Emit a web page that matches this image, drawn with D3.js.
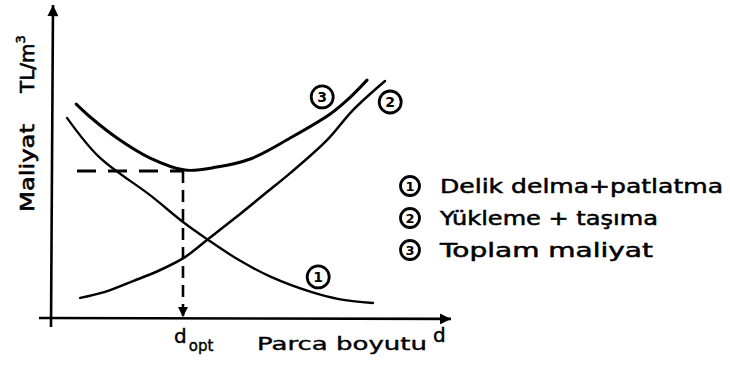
<!DOCTYPE html>
<html>
<head>
<meta charset="utf-8">
<script src="https://cdn.jsdelivr.net/npm/d3@7/dist/d3.min.js"></script>
<style>
  html, body { margin: 0; padding: 0; background: #fff; }
  svg { display: block; }
  text { font-family: "DejaVu Sans", sans-serif; fill: #000; }
</style>
</head>
<body>
<svg id="chart" width="730" height="367"></svg>
<script>
// Cost curves versus fragment size (relative units)
const drillX  = [0.4, 1.2, 2.5, 3.3, 3.9, 4.7, 5.5, 6.5, 7.2, 8.05];
const drillY  = [6.67, 5.37, 4.07, 3.2, 2.63, 1.93, 1.37, 0.87, 0.63, 0.5];
const haulX   = [0.73, 1.35, 2.05, 2.73, 3.35, 3.9, 4.6, 5.4, 5.98, 6.9, 7.55, 8.35];
const haulY   = [0.67, 0.87, 1.23, 1.6, 2.03, 2.6, 3.33, 4.2, 4.83, 5.93, 6.93, 7.9];
const totalX  = [0.63, 0.98, 1.65, 2.48, 3.35, 4.15, 4.98, 5.98, 6.98, 7.45, 7.9];
const totalY  = [7.13, 6.7, 6.0, 5.33, 4.93, 5.03, 5.3, 6.0, 6.8, 7.32, 7.93];
const optimum = { x: 3.3, y: 4.9 };

const legendNums  = ["1", "2", "3"];
const legendTexts = ["Delik delma+patlatma", "Yükleme + taşıma", "Toplam maliyat"];
const legendWidths = [283, 218, 213];

const svg = d3.select("#chart");
const x = d3.scaleLinear().domain([0, 10]).range([51, 451]);
const y = d3.scaleLinear().domain([0, 10]).range([318, 18]);

// arrowheads
const defs = svg.append("defs");
defs.append("marker").attr("id", "arr").attr("viewBox", "0 0 10 10")
  .attr("refX", 10).attr("refY", 5).attr("markerWidth", 10).attr("markerHeight", 10)
  .attr("markerUnits", "userSpaceOnUse").attr("orient", "auto")
  .append("path").attr("d", "M0,0 L10,5 L0,10 Z").attr("fill", "#000");
defs.append("marker").attr("id", "arrBig").attr("viewBox", "0 0 10 10")
  .attr("refX", 10).attr("refY", 5).attr("markerWidth", 16).attr("markerHeight", 11)
  .attr("markerUnits", "userSpaceOnUse").attr("orient", "auto")
  .append("path").attr("d", "M0,0 L10,5 L0,10 Z").attr("fill", "#000");

// axes
svg.append("line")
  .attr("x1", x(-0.3)).attr("y1", y(0)).attr("x2", x(10)).attr("y2", y(-0.03))
  .attr("stroke", "#000").attr("stroke-width", 2.6).attr("marker-end", "url(#arrBig)");
svg.append("line")
  .attr("x1", x(0)).attr("y1", y(-0.3)).attr("x2", x(0.05)).attr("y2", y(10.43))
  .attr("stroke", "#000").attr("stroke-width", 2.6).attr("marker-end", "url(#arrBig)");

// curves
const line = d3.line().x(d => x(d[0])).y(d => y(d[1])).curve(d3.curveCatmullRom.alpha(0.5));
const series = [
  { xs: drillX, ys: drillY, w: 2.3 },
  { xs: haulX,  ys: haulY,  w: 2.5 },
  { xs: totalX, ys: totalY, w: 3.0 }
];
series.forEach(s => {
  svg.append("path")
    .datum(s.xs.map((v, i) => [v, s.ys[i]]))
    .attr("d", line)
    .attr("fill", "none").attr("stroke", "#000")
    .attr("stroke-width", s.w).attr("stroke-linecap", "round");
});

// optimum guides
svg.append("line")
  .attr("x1", x(0.65)).attr("y1", y(optimum.y)).attr("x2", x(optimum.x)).attr("y2", y(optimum.y))
  .attr("stroke", "#000").attr("stroke-width", 3).attr("stroke-dasharray", "19,12");
svg.append("line")
  .attr("x1", x(optimum.x)).attr("y1", y(optimum.y)).attr("x2", x(optimum.x)).attr("y2", y(0.03))
  .attr("stroke", "#000").attr("stroke-width", 2.6).attr("stroke-dasharray", "12,7")
  .attr("marker-end", "url(#arr)");

// circled number helper
function circled(cx, cy, r, num, fs) {
  svg.append("circle").attr("cx", cx).attr("cy", cy).attr("r", r)
    .attr("fill", "none").attr("stroke", "#000").attr("stroke-width", 2.8);
  svg.append("text").attr("x", cx).attr("y", cy).attr("text-anchor", "middle")
    .attr("dominant-baseline", "central").attr("font-size", fs).attr("font-weight", "bold")
    .text(num);
}

// curve tags
circled(x(6.78), y(7.37), 11, "3", 14);
circled(x(8.48), y(7.2), 11, "2", 14);
circled(x(6.68), y(1.37), 11, "1", 14);

// legend
legendNums.forEach((n, i) => {
  const cy = 186 + i * 32;
  circled(410, cy, 9.5, n, 13);
  svg.append("text").attr("x", 440).attr("y", cy + 7)
    .attr("font-size", 19).attr("stroke", "#000").attr("stroke-width", 0.5)
    .attr("textLength", legendWidths[i]).attr("lengthAdjust", "spacingAndGlyphs")
    .text(legendTexts[i]);
});

// axis labels
const xl = svg.append("text").attr("x", 174).attr("y", 343).attr("font-size", 20)
  .attr("stroke", "#000").attr("stroke-width", 0.4);
xl.append("tspan").text("d");
xl.append("tspan").attr("dy", 8).attr("dx", 2).attr("font-size", 15).text("opt");
svg.append("text").attr("x", 257).attr("y", 350).attr("font-size", 18)
  .attr("stroke", "#000").attr("stroke-width", 0.4)
  .attr("textLength", 170).attr("lengthAdjust", "spacingAndGlyphs").text("Parca boyutu");
svg.append("text").attr("x", 433).attr("y", 342).attr("font-size", 20)
  .attr("stroke", "#000").attr("stroke-width", 0.4).text("d");

svg.append("text").attr("transform", "translate(34,212) rotate(-90)")
  .attr("font-size", 20).attr("stroke", "#000").attr("stroke-width", 0.6)
  .attr("textLength", 88).attr("lengthAdjust", "spacingAndGlyphs").text("Maliyat");
const unit = svg.append("text").attr("transform", "translate(34,93) rotate(-90)")
  .attr("font-size", 20).attr("stroke", "#000").attr("stroke-width", 0.6);
unit.append("tspan").text("TL/m");
unit.append("tspan").attr("dy", -9).attr("font-size", 13).text("3");
</script>
</body>
</html>
